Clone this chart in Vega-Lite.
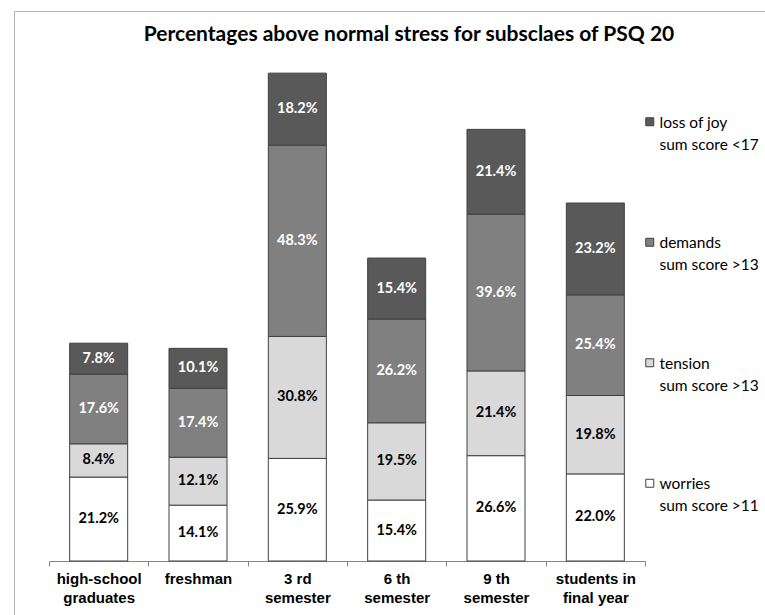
{
  "$schema": "https://vega.github.io/schema/vega-lite/v6.json",
  "width": 760,
  "height": 610,
  "autosize": {"type": "none"},
  "padding": {"left": 14, "top": 11, "right": -9, "bottom": -6},
  "background": "white",
  "title": {
    "text": "Percentages above normal stress for subsclaes of PSQ 20",
    "font": "Lato",
    "fontSize": 21,
    "fontWeight": "bold",
    "color": "black",
    "anchor": "middle",
    "frame": "group",
    "baseline": "alphabetic",
    "offset": 0,
    "dx": 15,
    "dy": 51
  },
  "data": {
    "values": [
      {"group": "high-school\ngraduates", "subscale": "worries", "rank": 1, "pct": 21.2},
      {"group": "high-school\ngraduates", "subscale": "tension", "rank": 2, "pct": 8.4},
      {"group": "high-school\ngraduates", "subscale": "demands", "rank": 3, "pct": 17.6},
      {"group": "high-school\ngraduates", "subscale": "loss of joy", "rank": 4, "pct": 7.8},
      {"group": "freshman", "subscale": "worries", "rank": 1, "pct": 14.1},
      {"group": "freshman", "subscale": "tension", "rank": 2, "pct": 12.1},
      {"group": "freshman", "subscale": "demands", "rank": 3, "pct": 17.4},
      {"group": "freshman", "subscale": "loss of joy", "rank": 4, "pct": 10.1},
      {"group": "3 rd\nsemester", "subscale": "worries", "rank": 1, "pct": 25.9},
      {"group": "3 rd\nsemester", "subscale": "tension", "rank": 2, "pct": 30.8},
      {"group": "3 rd\nsemester", "subscale": "demands", "rank": 3, "pct": 48.3},
      {"group": "3 rd\nsemester", "subscale": "loss of joy", "rank": 4, "pct": 18.2},
      {"group": "6 th\nsemester", "subscale": "worries", "rank": 1, "pct": 15.4},
      {"group": "6 th\nsemester", "subscale": "tension", "rank": 2, "pct": 19.5},
      {"group": "6 th\nsemester", "subscale": "demands", "rank": 3, "pct": 26.2},
      {"group": "6 th\nsemester", "subscale": "loss of joy", "rank": 4, "pct": 15.4},
      {"group": "9 th\nsemester", "subscale": "worries", "rank": 1, "pct": 26.6},
      {"group": "9 th\nsemester", "subscale": "tension", "rank": 2, "pct": 21.4},
      {"group": "9 th\nsemester", "subscale": "demands", "rank": 3, "pct": 39.6},
      {"group": "9 th\nsemester", "subscale": "loss of joy", "rank": 4, "pct": 21.4},
      {"group": "students in\nfinal year", "subscale": "worries", "rank": 1, "pct": 22.0},
      {"group": "students in\nfinal year", "subscale": "tension", "rank": 2, "pct": 19.8},
      {"group": "students in\nfinal year", "subscale": "demands", "rank": 3, "pct": 25.4},
      {"group": "students in\nfinal year", "subscale": "loss of joy", "rank": 4, "pct": 23.2}
    ]
  },
  "transform": [
    {"stack": "pct", "groupby": ["group"], "sort": [{"field": "rank", "order": "ascending"}], "as": ["y0", "y1"]},
    {"calculate": "(datum.y0 + datum.y1) / 2", "as": "ymid"},
    {"calculate": "format(datum.pct, '.1f') + '%'", "as": "label"}
  ],
  "encoding": {
    "x": {
      "field": "group",
      "type": "nominal",
      "sort": null,
      "scale": {"range": [35, 631], "paddingInner": 0, "paddingOuter": 0},
      "axis": {
        "title": null,
        "orient": "bottom",
        "offset": -60,
        "labelAngle": 0,
        "tickBand": "extent",
        "tickSize": 5,
        "tickColor": "#868686",
        "domainColor": "#868686",
        "labelFont": "Liberation Sans",
        "labelFontSize": 15,
        "labelFontWeight": "bold",
        "labelColor": "black",
        "labelLineHeight": 19,
        "labelPadding": 5,
        "labelExpr": "split(datum.label, '\\n')"
      }
    }
  },
  "layer": [
    {
      "mark": {"type": "bar", "width": {"band": 0.584}, "stroke": "#404040", "strokeWidth": 1},
      "encoding": {
        "y": {"field": "y0", "type": "quantitative", "scale": {"domain": [0, 125], "range": [550, 55], "nice": false, "zero": true}, "axis": null},
        "y2": {"field": "y1"},
        "color": {
          "field": "subscale",
          "type": "nominal",
          "scale": {
            "domain": ["loss of joy", "demands", "tension", "worries"],
            "range": ["#595959", "#808080", "#d9d9d9", "#ffffff"]
          },
          "legend": {
            "title": null,
            "orient": "none",
            "legendX": 628,
            "legendY": 103,
            "symbolType": "square",
            "symbolSize": 64,
            "symbolStrokeColor": "#404040",
            "symbolStrokeWidth": 1,
            "symbolOpacity": 1,
            "labelFont": "Lato",
            "labelFontSize": 15.5,
            "labelColor": "black",
            "labelBaseline": "top",
            "labelOffset": 2,
            "labelLimit": 200,
            "rowPadding": 80.5,
            "padding": 0,
            "labelExpr": "[datum.label, datum.label == 'loss of joy' ? 'sum score <17' : (datum.label == 'worries' ? 'sum score >11' : 'sum score >13')]",
            "encode": {
              "labels": {"update": {"lineHeight": {"value": 22}, "dy": {"value": -6}}}
            }
          }
        }
      }
    },
    {
      "mark": {"type": "text", "font": "Lato", "fontSize": 14.5, "fontWeight": "bold", "baseline": "middle", "align": "center"},
      "encoding": {
        "y": {"field": "ymid", "type": "quantitative"},
        "text": {"field": "label"},
        "color": {
          "condition": {"test": "datum.subscale == 'loss of joy' || datum.subscale == 'demands'", "value": "white"},
          "value": "black"
        }
      }
    }
  ],
  "config": {
    "view": {"stroke": "#b4b4b4", "strokeWidth": 1}
  }
}
